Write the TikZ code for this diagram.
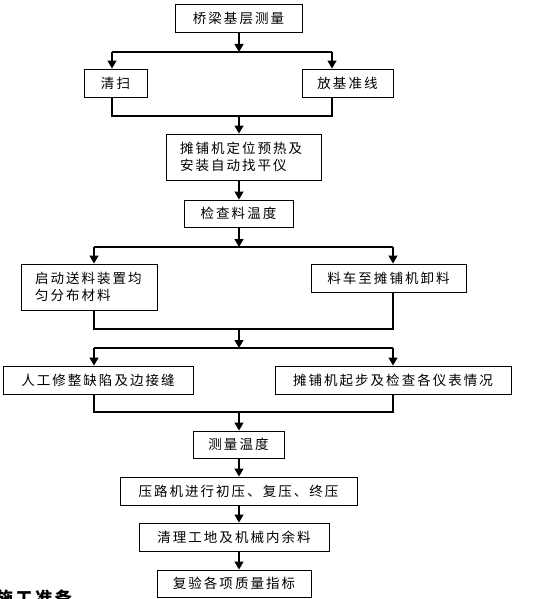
\documentclass[tikz,border=0pt]{standalone}
\usepackage{fontspec}
\setmainfont{Noto Sans CJK SC}[LetterSpace=15]
\usetikzlibrary{arrows.meta}

\begin{document}
\begin{tikzpicture}[x=1pt, y=-1pt,
	box/.style={draw, line width=0.9pt, font=\fontsize{13.5pt}{17pt}\selectfont, inner sep=0pt},
	twoline/.style={box, align=left, inner xsep=14pt},
	ln/.style={line width=1.2pt},
	arr/.style={line width=1.2pt, -{Triangle[length=8pt,width=9pt]}}]
	\useasboundingbox (0,0) rectangle (537,599);
	% steps
	\node[box, minimum width=127pt, minimum height=28pt] (n1) at (238.5,18) {桥梁基层测量};
	\node[box, minimum width=63pt, minimum height=28pt] (n2) at (115.5,83) {清扫};
	\node[box, minimum width=91pt, minimum height=28pt] (n3) at (347.5,83) {放基准线};
	\node[twoline, text width=127pt, minimum height=46pt] (n4) at (243.5,157) {摊铺机定位预热及\\安装自动找平仪};
	\node[box, minimum width=109pt, minimum height=27pt] (n5) at (238.5,213.5) {检查料温度};
	\node[twoline, text width=108pt, minimum height=46pt] (n6) at (89,287) {启动送料装置均\\匀分布材料};
	\node[box, minimum width=155pt, minimum height=28pt] (n7) at (388.5,278) {料车至摊铺机卸料};
	\node[box, minimum width=190pt, minimum height=28pt] (n8) at (98,380) {人工修整缺陷及边接缝};
	\node[box, minimum width=236pt, minimum height=28pt] (n9) at (393,380) {摊铺机起步及检查各仪表情况};
	\node[box, minimum width=91pt, minimum height=27pt] (n10) at (238.5,444.5) {测量温度};
	\node[box, minimum width=237pt, minimum height=28pt] (n11) at (238.5,491) {压路机进行初压、复压、终压};
	\node[box, minimum width=190pt, minimum height=28pt] (n12) at (234,537) {清理工地及机械内余料};
	\node[box, minimum width=154pt, minimum height=27pt] (n13) at (234,583.5) {复验各项质量指标};
	\node[anchor=north west, inner sep=0pt, font=\fontsize{17pt}{17pt}\bfseries] (tail) at (-4,590) {施工准备};
	% split and join points
	\coordinate (s1) at (239,52);
	\coordinate (s1l) at (112,52);
	\coordinate (s1r) at (332,52);
	\coordinate (m1) at (239,116);
	\coordinate (s2) at (239,247);
	\coordinate (s2l) at (94,247);
	\coordinate (s2r) at (393,247);
	\coordinate (m2) at (239,329);
	\coordinate (s3) at (239,348);
	\coordinate (s3l) at (94,348);
	\coordinate (s3r) at (393,348);
	\coordinate (m3) at (239,412);
	% connectors
	\draw[arr] (s1 |- n1.south) -- (s1);
	\draw[ln] (s1l) -- (s1r);
	\draw[arr] (s1l) -- (s1l |- n2.north);
	\draw[arr] (s1r) -- (s1r |- n3.north);
	\draw[ln] (s1l |- n2.south) -- (s1l |- m1) -- (s1r |- m1) -- (s1r |- n3.south);
	\draw[arr] (m1) -- (m1 |- n4.north);
	\draw[arr] (m1 |- n4.south) -- (m1 |- n5.north);
	\draw[arr] (s2 |- n5.south) -- (s2);
	\draw[ln] (s2l) -- (s2r);
	\draw[arr] (s2l) -- (s2l |- n6.north);
	\draw[arr] (s2r) -- (s2r |- n7.north);
	\draw[ln] (s2l |- n6.south) -- (s2l |- m2) -- (s2r |- m2) -- (s2r |- n7.south);
	\draw[arr] (m2) -- (s3);
	\draw[ln] (s3l) -- (s3r);
	\draw[arr] (s3l) -- (s3l |- n8.north);
	\draw[arr] (s3r) -- (s3r |- n9.north);
	\draw[ln] (s3l |- n8.south) -- (s3l |- m3) -- (s3r |- m3) -- (s3r |- n9.south);
	\draw[arr] (m3) -- (m3 |- n10.north);
	\draw[arr] (m3 |- n10.south) -- (m3 |- n11.north);
	\draw[arr] (m3 |- n11.south) -- (m3 |- n12.north);
	\draw[arr] (m3 |- n12.south) -- (m3 |- n13.north);
\end{tikzpicture}
\end{document}
